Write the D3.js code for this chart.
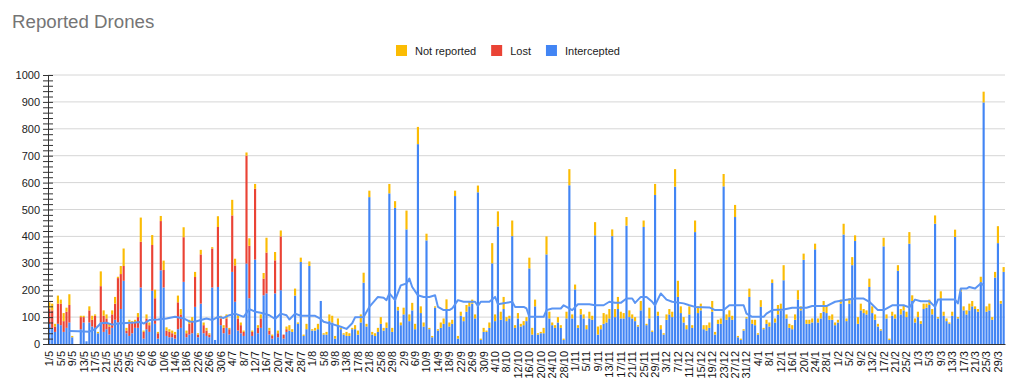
<!DOCTYPE html>
<html>
<head>
<meta charset="utf-8">
<script src="https://cdn.jsdelivr.net/npm/d3@7"></script>
<style>
  body { margin: 0; background: #fff; }
  text { font-family: "Liberation Sans", Arial, sans-serif; }
</style>
</head>
<body>
<div id="chart"></div>
<script>
// one bar per day, 1/5 .. 31/3
let startDate = new Date(2024, 4, 1);
let endDate = new Date(2025, 3, 1);

let intercepted = [
  75,60,45,75,70,45,60,80,25,0, 0,55,80,10,80,65,60,40,80,45,
  55,35,60,90,80,130,235,40,30,40, 60,60,210,20,55,45,198,75,20,274,
  210,30,25,25,20,55,60,231,25,35, 40,138,25,150,40,30,25,210,15,212,
  70,40,60,35,268,157,50,40,30,299, 170,30,314,40,60,181,188,35,20,188,
  25,200,20,45,50,45,180,75,305,30, 55,290,50,50,55,160,35,35,85,80,
  20,70,55,35,30,30,55,55,35,80, 228,65,546,35,30,45,75,50,60,560,
  45,506,125,70,110,426,85,125,55,743, 115,65,385,55,25,135,50,60,75,130,
  65,75,550,20,105,85,120,140,150,95, 564,15,45,45,60,300,85,437,90,130,
  85,95,401,60,95,65,70,85,281,35, 140,35,40,40,333,95,70,60,80,60,
  15,95,590,95,203,60,110,95,55,95, 90,404,35,55,75,80,95,401,100,130,
  95,95,440,100,95,85,65,125,435,70, 95,45,554,105,55,35,90,110,100,585,
  175,115,80,55,110,60,416,115,125,55, 50,60,120,35,75,75,586,90,100,90,
  472,25,15,50,95,175,75,70,35,138, 55,75,65,227,80,110,125,237,95,60,
  55,90,165,125,313,75,75,80,352,80, 95,120,115,90,90,70,80,150,407,85,
  150,293,383,75,125,115,110,212,115,90, 65,50,363,95,15,105,95,272,110,125,
  100,373,160,80,100,75,130,135,145,110, 447,95,170,105,85,75,105,398,95,195,
  125,110,125,140,130,120,230,898,120,125, 90,247,375,150,268
];

// lost only reported in the first months, later days are 0
let lost = [
  55,65,20,75,80,40,60,65,0,0, 0,45,20,0,45,25,45,0,135,60,
  40,30,50,60,165,130,55,10,45,40, 20,40,170,25,40,25,170,95,20,183,
  65,20,20,15,15,100,50,166,15,40, 45,111,10,183,30,20,10,145,0,223,
  25,20,35,20,210,135,45,30,15,401, 195,15,263,20,35,62,152,15,10,123,
  15,200,15,10,0
];

let notReported = [
  25,25,10,30,15,30,15,40,5,0, 0,5,5,0,15,15,5,5,55,20,
  15,10,15,25,5,30,65,10,15,5, 10,15,90,5,15,10,37,32,5,19,
  35,12,10,10,10,25,20,37,10,15, 15,19,5,17,10,10,5,5,0,40,
  10,10,15,5,58,25,15,10,5,12, 28,5,18,10,15,21,55,10,5,31,
  10,22,0,10,20,10,26,5,16,5, 20,17,5,10,20,0,5,10,25,25,
  10,25,5,5,15,10,5,15,15,30, 37,10,24,10,10,15,25,10,20,35,
  15,25,13,10,25,70,25,28,20,64, 25,15,25,5,5,5,5,20,20,36,
  15,15,20,10,15,15,25,20,15,15, 25,5,15,5,20,75,25,56,30,45,
  15,10,58,10,20,10,15,15,40,25, 25,5,5,20,67,25,10,10,20,10,
  5,25,60,15,18,10,20,15,15,25, 15,49,30,15,40,30,35,25,30,45,
  25,20,32,25,15,15,5,35,24,5, 40,5,41,15,15,5,20,20,20,65,
  60,25,20,15,30,10,43,25,25,15, 20,20,40,10,15,20,46,20,25,15,
  45,5,5,5,5,31,15,20,5,25, 5,15,15,13,15,35,25,56,15,15,
  15,20,35,15,23,15,15,15,21,15, 20,40,25,15,20,10,10,15,40,10,
  20,30,21,25,25,15,15,31,25,20, 10,5,32,15,5,15,15,21,20,20,
  20,43,21,15,20,10,20,15,20,20, 31,5,26,15,10,5,15,27,5,11,
  15,15,25,20,10,10,20,40,20,25, 10,21,63,10,18
];

// moving average line (day index, value)
let trendDays = [7,10,14,16,18,20,22,24,27,30,32,33,35,38,41,44,47,49,51,53,55,57,59,61,63,65,68,70,72,74,77,79,81,83,84,86,88,93,95,96,99,102,104,106,107,110,112,115,117,118,119,121,123,125,126,127,129,131,133,135,136,138,140,141,143,145,149,150,151,154,156,157,160,162,163,166,167,168,173,174,176,179,180,181,183,185,189,191,194,196,198,200,202,204,205,207,209,211,212,214,216,218,222,224,226,231,233,236,238,243,244,246,250,251,253,257,260,265,267,272,275,278,282,285,287,290,292,295,299,301,303,305,308,310,311,317,318,319,321,322,324,326,327];
let trendValues = [48,47,46,55,77,79,72,76,78,80,82,76,89,91,95,101,95,84,83,89,95,89,101,97,107,113,101,130,120,116,107,93,113,107,91,113,105,105,93,83,74,64,56,77,99,100,138,175,172,163,188,163,218,225,243,212,181,175,175,181,138,126,126,132,163,157,157,141,157,157,175,148,153,157,138,138,132,101,101,126,132,132,144,138,126,148,148,144,144,157,153,153,169,169,153,175,175,157,144,188,165,157,151,144,138,136,126,126,144,144,113,101,101,113,126,128,135,135,141,141,157,163,169,169,157,126,126,144,144,136,165,159,159,138,165,165,151,206,206,212,206,225,219];

let yTicks = [0, 100, 200, 300, 400, 500, 600, 700, 800, 900, 1000];
let keys = ["intercepted", "lost", "notReported"];
let color = { intercepted: "#4285f4", lost: "#ea4335", notReported: "#fbbc04" };
let legendItems = [["notReported", "Not reported"], ["lost", "Lost"], ["intercepted", "Intercepted"]];

let width = 1024, height = 390;
let plotLeft = 48, plotRight = 1005, plotTop = 75, plotBottom = 344;

let days = d3.timeDay.range(startDate, endDate);
let rows = days.map(function(d, i) {
  return { i: i, intercepted: intercepted[i], lost: lost[i] || 0, notReported: notReported[i] };
});

let svg = d3.select("#chart")
  .append("svg")
  .attr("width", width)
  .attr("height", height);

let x = d3.scaleBand()
  .domain(d3.range(days.length))
  .range([plotLeft, plotRight])
  .paddingInner(0.25)
  .paddingOuter(0.1);

let y = d3.scaleLinear()
  .domain([0, 1000])
  .range([plotBottom, plotTop]);

/* title + legend */
svg.append("text")
  .attr("x", 12)
  .attr("y", 28)
  .attr("font-size", 18.7)
  .attr("fill", "#757575")
  .text("Reported Drones");

let lx = 396;
legendItems.forEach(function(item) {
  svg.append("rect")
    .attr("x", lx).attr("y", 45)
    .attr("width", 11).attr("height", 11)
    .attr("fill", color[item[0]]);
  let t = svg.append("text")
    .attr("x", lx + 19).attr("y", 54.5)
    .attr("font-size", 11)
    .attr("fill", "#222")
    .text(item[1]);
  lx += 19 + t.node().getComputedTextLength() + 15;
});

/* grid */
svg.append("g")
  .selectAll("line")
  .data(yTicks.slice(1))
  .enter().append("line")
  .attr("x1", plotLeft).attr("x2", plotRight)
  .attr("y1", function(d) { return y(d); })
  .attr("y2", function(d) { return y(d); })
  .attr("stroke", "#d6d6d6");

/* bars */
let series = d3.stack().keys(keys)(rows);

svg.append("g")
  .selectAll("g")
  .data(series)
  .enter().append("g")
  .attr("fill", function(s) { return color[s.key]; })
  .selectAll("rect")
  .data(function(s) { return s; })
  .enter().append("rect")
  .attr("x", function(d) { return x(d.data.i); })
  .attr("y", function(d) { return y(d[1]); })
  .attr("width", x.bandwidth())
  .attr("height", function(d) { return y(d[0]) - y(d[1]); });

/* trend line */
let line = d3.line()
  .x(function(d) { return x(d) + x.bandwidth() / 2; })
  .y(function(d, i) { return y(trendValues[i]); });

svg.append("path")
  .attr("d", line(trendDays))
  .attr("fill", "none")
  .attr("stroke", "#5b95f3")
  .attr("stroke-width", 2)
  .attr("stroke-linejoin", "round");

/* y axis with minor ticks */
let minor = d3.range(0, 1001, 20);

svg.append("g")
  .attr("transform", "translate(" + plotLeft + ",0)")
  .call(d3.axisLeft(y).tickValues(minor).tickSize(5)
    .tickFormat(function(d) { return yTicks.indexOf(d) >= 0 ? d : ""; }))
  .call(function(g) { g.select(".domain").attr("stroke", "#333"); })
  .call(function(g) { g.selectAll(".tick line").attr("stroke", "#333"); })
  .call(function(g) { g.selectAll("text").attr("font-size", 11).attr("fill", "#222").attr("font-family", null); });

svg.append("g")
  .attr("transform", "translate(" + plotLeft + ",0)")
  .call(d3.axisRight(y).tickValues(minor).tickSize(5).tickFormat(""))
  .call(function(g) { g.select(".domain").remove(); })
  .call(function(g) { g.selectAll(".tick line").attr("stroke", "#333"); });

/* x axis, label every 4th day */
let fmt = d3.timeFormat("%-d/%-m");
let labelIdx = d3.range(0, days.length, 4);

svg.append("g")
  .attr("transform", "translate(0," + plotBottom + ")")
  .call(d3.axisBottom(x).tickValues(labelIdx).tickSize(0)
    .tickFormat(function(i) { return fmt(days[i]); }))
  .call(function(g) { g.select(".domain").attr("stroke", "#333"); })
  .selectAll("text")
  .attr("font-size", 11)
  .attr("fill", "#111")
  .attr("font-family", null)
  .attr("transform", "rotate(-90)")
  .attr("x", -7)
  .attr("y", 0)
  .attr("dy", "0.35em")
  .style("text-anchor", "end");
</script>
</body>
</html>
